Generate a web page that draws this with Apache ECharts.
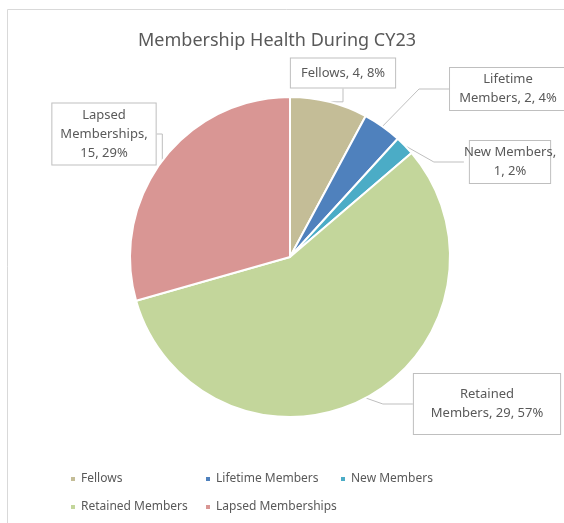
<!DOCTYPE html>
<html>
<head>
<meta charset="utf-8">
<script src="https://cdn.jsdelivr.net/npm/echarts@6/dist/echarts.min.js"></script>
<style>
  html, body { margin: 0; padding: 0; background: #fff; }
  #main { width: 564px; height: 523px; }
</style>
</head>
<body>
<div id="main"></div>
<script>
const categories = ['Fellows', 'Lifetime Members', 'New Members', 'Retained Members', 'Lapsed Memberships'];
const counts = [4, 2, 1, 29, 15];
const percents = ['8%', '4%', '2%', '57%', '29%'];
const labelTexts = [
  'Fellows, 4, 8%',
  'Lifetime\nMembers, 2, 4%',
  'New Members,\n1, 2%',
  'Retained\nMembers, 29, 57%',
  'Lapsed\nMemberships,\n15, 29%'
];
const colors = ['#C4BD97', '#4F81BD', '#4BACC6', '#C3D69B', '#D99694'];
// label box centres and paddings
const labelPos = [[343, 73], [508, 89], [510, 162], [487, 404], [104, 134]];
const labelPad = [[5, 10], [2, 8], [2, 8], [11, 8], [2, 8]];

const chart = echarts.init(document.getElementById('main'));

const option = {
  animation: false,
  color: colors,
  textStyle: { fontFamily: 'Noto Sans' },
  title: {
    text: 'Membership Health During CY23',
    left: 133,
    top: 27,
    textStyle: { fontSize: 18, fontWeight: 'normal', color: '#595959', fontFamily: 'Noto Sans' }
  },
  graphic: [{
    type: 'rect',
    shape: { x: 7.5, y: 9.5, width: 700, height: 700 },
    style: { fill: null, stroke: '#d9d9d9', lineWidth: 1 },
    silent: true
  }],
  legend: {
    left: 64,
    top: 465,
    width: 420,
    itemWidth: 6,
    itemHeight: 6,
    itemGap: 10,
    icon: 'rect',
    textStyle: { fontSize: 12, color: '#595959', width: 113, lineHeight: 18 },
    data: categories
  },
  series: [{
    type: 'pie',
    center: [290, 257],
    radius: 160,
    startAngle: 90,
    itemStyle: { borderColor: '#fff', borderWidth: 2 },
    label: {
      show: true,
      position: 'outside',
      formatter: p => labelTexts[p.dataIndex],
      fontSize: 13,
      lineHeight: 19,
      color: '#595959',
      align: 'center',
      overflow: 'none',
      backgroundColor: '#fff',
      borderColor: '#bfbfbf',
      borderWidth: 1
    },
    labelLine: { show: true, lineStyle: { color: '#bfbfbf', width: 1 } },
    labelLayout: p => ({
      x: labelPos[p.dataIndex][0],
      y: labelPos[p.dataIndex][1],
      align: 'center',
      verticalAlign: 'middle'
    }),
    emphasis: { disabled: true },
    data: categories.map((c, i) => ({
      name: c,
      value: counts[i],
      label: { padding: labelPad[i] }
    }))
  }]
};
chart.setOption(option);
</script>
</body>
</html>
